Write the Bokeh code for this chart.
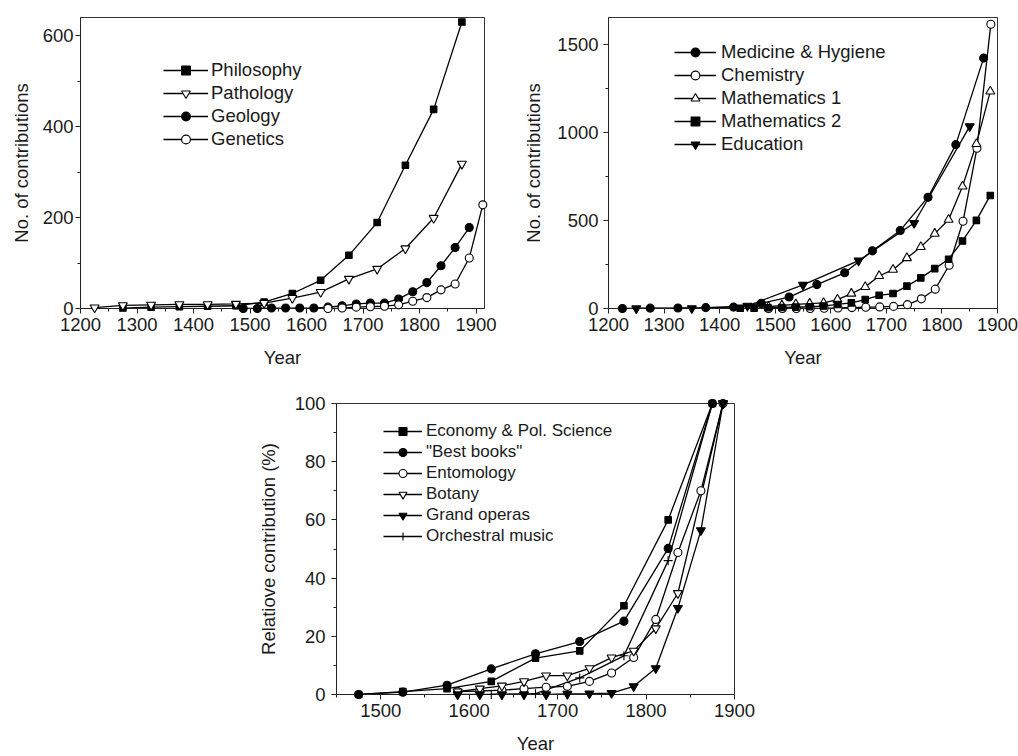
from bokeh.plotting import figure
from bokeh.models import Range1d, SingleIntervalTicker, Legend, LegendItem, Spacer
from bokeh.layouts import column, row
from bokeh.embed import file_html
from bokeh.resources import INLINE

FONT = "Liberation Sans"
TXT = "#1a1a1a"

# ---------------- Panel A data ----------------
philosophy_x = [1275, 1325, 1375, 1425, 1475, 1525, 1575, 1625, 1675, 1725, 1775, 1825, 1875]
philosophy_y = [1, 3, 4, 5, 6, 14, 33, 62, 117, 189, 315, 438, 630]
pathology_x = [1225, 1275, 1325, 1375, 1425, 1475, 1525, 1575, 1625, 1675, 1725, 1775, 1825, 1875]
pathology_y = [2, 7, 8, 9, 9, 10, 12, 23, 36, 65, 87, 132, 199, 318]
geology_x = [1488, 1513, 1538, 1563, 1588, 1613, 1638, 1663, 1688, 1713, 1738, 1763, 1788, 1813, 1838, 1863, 1888]
geology_y = [0, 0, 1, 1, 1, 1, 3, 6, 10, 12, 12, 21, 37, 57, 94, 134, 178]
genetics_x = [1638, 1663, 1688, 1713, 1738, 1763, 1788, 1813, 1838, 1863, 1888, 1912]
genetics_y = [0, 1, 3, 4, 5, 8, 16, 24, 41, 54, 111, 228]

# ---------------- Panel B data ----------------
medicine_x = [1225, 1275, 1325, 1375, 1425, 1475, 1525, 1575, 1625, 1675, 1725, 1775, 1825, 1875]
medicine_y = [0, 2, 3, 5, 8, 30, 65, 136, 203, 328, 444, 633, 932, 1424]
chemistry_x = [1488, 1513, 1538, 1563, 1588, 1613, 1638, 1663, 1688, 1713, 1738, 1763, 1788, 1813, 1838, 1863, 1888]
chemistry_y = [0, 0, 0, 0, 1, 3, 5, 7, 9, 12, 22, 55, 110, 246, 496, 911, 1617]
math1_x = [1488, 1512, 1537, 1562, 1587, 1612, 1637, 1662, 1687, 1712, 1737, 1762, 1787, 1812, 1837, 1862, 1887]
math1_y = [10, 18, 24, 28, 32, 51, 85, 123, 185, 221, 287, 350, 426, 505, 694, 936, 1235]
math2_x = [1437, 1462, 1487, 1512, 1537, 1562, 1587, 1612, 1637, 1662, 1687, 1712, 1737, 1762, 1787, 1812, 1837, 1862, 1887]
math2_y = [1, 2, 4, 6, 8, 10, 14, 23, 32, 51, 75, 85, 127, 174, 227, 280, 384, 501, 643]
education_x = [1250, 1350, 1450, 1550, 1650, 1750, 1850]
education_y = [0, 1, 15, 134, 272, 486, 1036]

# ---------------- Panel C data ----------------
economy_x = [1475, 1525, 1575, 1625, 1675, 1725, 1775, 1825, 1875]
economy_y = [0, 1, 2, 4.5, 12.5, 15, 30.5, 60, 100]
books_x = [1475, 1525, 1575, 1625, 1675, 1725, 1775, 1825, 1875]
books_y = [0, 0.8, 3.2, 8.8, 14, 18.2, 25.2, 50.2, 100]
entomology_x = [1587, 1612, 1637, 1662, 1687, 1711, 1736, 1761, 1786, 1811, 1836, 1862, 1887]
entomology_y = [1, 1.2, 1.5, 2, 2.5, 2.8, 4.5, 7.4, 12.7, 25.8, 48.8, 70, 100]
botany_x = [1587, 1612, 1637, 1662, 1687, 1711, 1736, 1761, 1786, 1811, 1836, 1887]
botany_y = [1, 2, 3, 4.5, 6.5, 6.5, 9, 12.7, 15, 22.7, 34.8, 100]
operas_x = [1587, 1612, 1637, 1662, 1687, 1711, 1736, 1761, 1786, 1811, 1836, 1862, 1887]
operas_y = [0, 0, 0, 0, 0, 0.2, 0.3, 0.5, 2.8, 9, 29.7, 56.4, 100]
orchestral_x = [1625, 1675, 1725, 1775, 1825, 1875]
orchestral_y = [0, 0.3, 5.7, 13.3, 46, 100]

STY = {
    "sq": dict(marker="square", size=6.5, fill_color="black"),
    "circ": dict(marker="circle", size=8, fill_color="black"),
    "ocirc": dict(marker="circle", size=8, fill_color="white"),
    "otri_dn": dict(marker="inverted_triangle", size=9, fill_color="white"),
    "tri_dn": dict(marker="inverted_triangle", size=9, fill_color="black"),
    "otri_up": dict(marker="triangle", size=9, fill_color="white"),
    "plus": dict(marker="cross", size=9, fill_color="black"),
}

AX_FS = "18.5px"


def make_fig(w, h, xr, yr, xint, yint, mbl, mbr, mbt, mbb, ylabel, y_std, ylab_std, xlab_std):
    p = figure(width=w, height=h, x_range=Range1d(*xr), y_range=Range1d(*yr),
               output_backend="svg", toolbar_location=None,
               min_border_left=mbl, min_border_right=mbr,
               min_border_top=mbt, min_border_bottom=mbb)
    p.grid.visible = False
    p.outline_line_color = "#333333"
    p.outline_line_width = 1
    p.background_fill_color = "white"
    p.border_fill_color = "white"
    p.xaxis.ticker = SingleIntervalTicker(interval=xint, num_minor_ticks=2)
    p.yaxis.ticker = SingleIntervalTicker(interval=yint, num_minor_ticks=2)
    for ax in (p.xaxis[0], p.yaxis[0]):
        ax.major_tick_out = 5
        ax.major_tick_in = 0
        ax.minor_tick_out = 3
        ax.minor_tick_in = 0
        ax.axis_line_color = "#222222"
        ax.major_tick_line_color = "#222222"
        ax.minor_tick_line_color = "#222222"
        ax.major_label_text_font = FONT
        ax.major_label_text_font_size = AX_FS
        ax.major_label_text_color = TXT
        ax.axis_label_text_font = FONT
        ax.axis_label_text_font_size = AX_FS
        ax.axis_label_text_font_style = "normal"
        ax.axis_label_text_color = TXT
    p.xaxis.axis_label = "Year"
    p.xaxis.major_label_standoff = 4
    p.xaxis.axis_label_standoff = xlab_std
    p.yaxis.axis_label = ylabel
    p.yaxis.major_label_standoff = y_std
    p.yaxis.axis_label_standoff = ylab_std
    return p


def add_series(p, xs, ys, style, name, items):
    rl = p.line(xs, ys, line_color="black", line_width=1.3)
    st = STY[style]
    rs = p.scatter(xs, ys, marker=st["marker"], size=st["size"], fill_color=st["fill_color"],
                   line_color="black", line_width=1.1, level="overlay")
    items.append(LegendItem(label=name, renderers=[rl, rs]))


def add_legend(p, items, loc, spacing, fs, gw, std, ih):
    leg = Legend(items=items, location=loc, padding=0, margin=0, spacing=spacing,
                 glyph_width=gw, glyph_height=ih, label_height=ih, label_standoff=std,
                 label_text_font=FONT, label_text_font_size=fs, label_text_color=TXT,
                 border_line_alpha=0, background_fill_alpha=0)
    p.add_layout(leg)


# Panel A
p1 = make_fig(520, 370, (1200, 1915), (0, 640), 100, 200, 80, 36, 12, 60,
              "No. of contributions", 2, 8, 13)
itA = []
add_series(p1, philosophy_x, philosophy_y, "sq", "Philosophy", itA)
add_series(p1, pathology_x, pathology_y, "otri_dn", "Pathology", itA)
add_series(p1, geology_x, geology_y, "circ", "Geology", itA)
add_series(p1, genetics_x, genetics_y, "ocirc", "Genetics", itA)
add_legend(p1, itA, (83, 158), 1, "18.5px", 45, 3, 22)

# Panel B
p2 = make_fig(498, 370, (1200, 1900), (0, 1655), 100, 500, 82, 21, 17, 62,
              "No. of contributions", 5, 10, 13)
itB = []
add_series(p2, medicine_x, medicine_y, "circ", "Medicine & Hygiene", itB)
add_series(p2, chemistry_x, chemistry_y, "ocirc", "Chemistry", itB)
add_series(p2, math1_x, math1_y, "otri_up", "Mathematics 1", itB)
add_series(p2, math2_x, math2_y, "sq", "Mathematics 2", itB)
add_series(p2, education_x, education_y, "tri_dn", "Education", itB)
add_legend(p2, itB, (66, 153), 1, "18.5px", 42, 5, 22)

# Panel C
p3 = make_fig(524, 386, (1450, 1900), (0, 100), 100, 20, 86, 40, 33, 59,
              "Relatiove contribution (%)", 6, 13, 13)
itC = []
add_series(p3, economy_x, economy_y, "sq", "Economy & Pol. Science", itC)
add_series(p3, books_x, books_y, "circ", "\"Best books\"", itC)
add_series(p3, entomology_x, entomology_y, "ocirc", "Entomology", itC)
add_series(p3, botany_x, botany_y, "otri_dn", "Botany", itC)
add_series(p3, operas_x, operas_y, "tri_dn", "Grand operas", itC)
add_series(p3, orchestral_x, orchestral_y, "plus", "Orchestral music", itC)
add_legend(p3, itC, (47, 148), 1, "17px", 39, 4, 20)

layout = column(row(p1, p2), row(Spacer(width=250, height=386), p3))

open("out.html", "w").write(file_html(layout, INLINE))
